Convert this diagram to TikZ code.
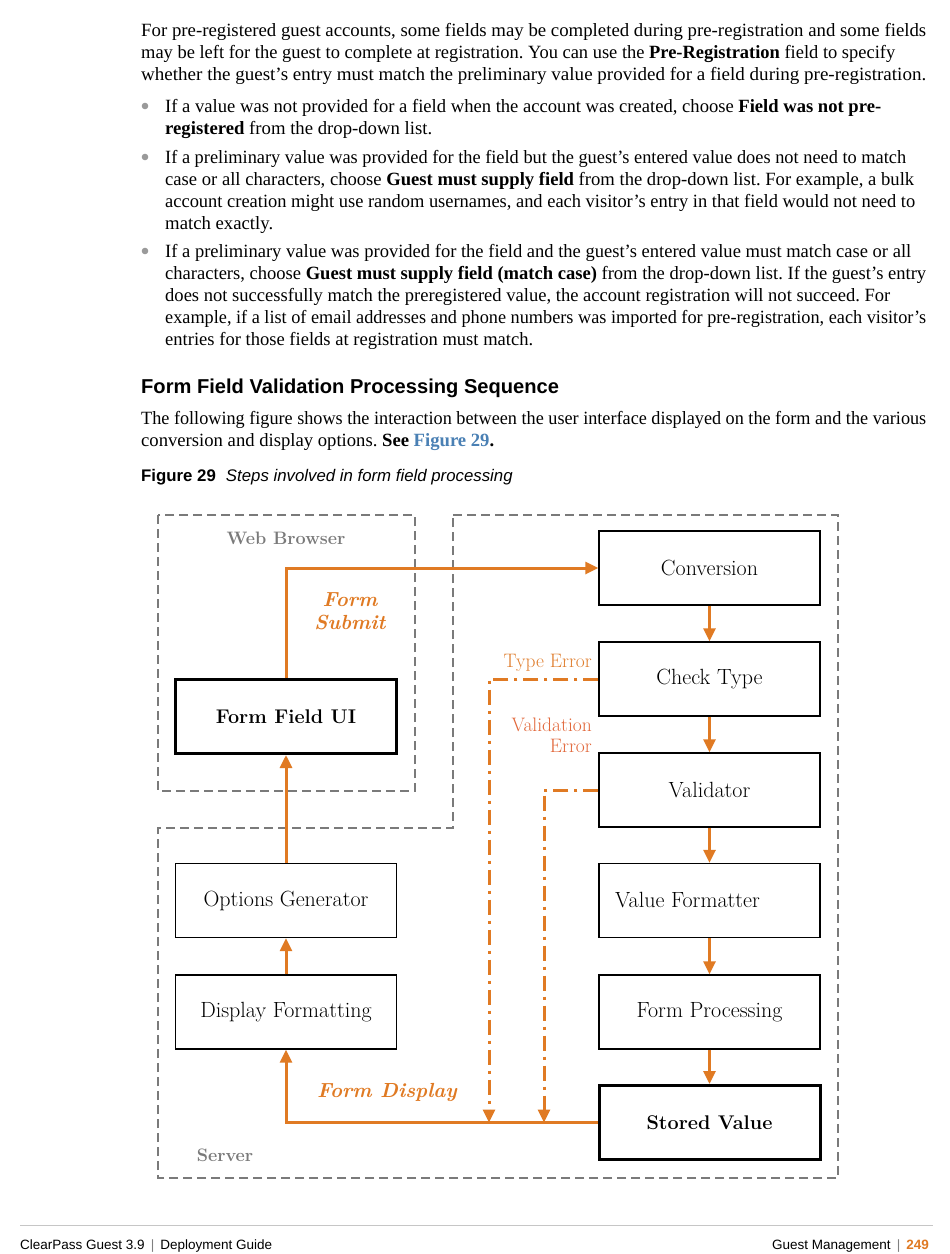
\documentclass[tikz,border=0pt]{standalone}
\usepackage{fontspec}
\usepackage{graphicx}
\usetikzlibrary{arrows.meta}
\setmainfont{Liberation Serif}
\newfontfamily\sansf{Liberation Sans}
\newfontfamily\diagf{Latin Modern Roman}
\definecolor{orng}{HTML}{E07A23}
\definecolor{orlt}{HTML}{E07E2E}
\definecolor{orred}{HTML}{E2673A}
\definecolor{dgray}{HTML}{7A7A7A}
\definecolor{lgray}{HTML}{9A9A9A}
\definecolor{linkblue}{HTML}{4A80B4}
\frenchspacing
\newcommand\fitln[2]{\resizebox{#1pt}{\height}{#2}}
\tikzset{
  body/.style={anchor=base west, inner sep=0pt, font=\fontsize{18.7}{22}\selectfont},
  bul/.style={fill=lgray, draw=none},
  box/.style={draw, line width=1.4pt, minimum width=221pt, minimum height=74pt, inner sep=0pt, font=\diagf\fontsize{22}{25}\selectfont},
  thickbox/.style={box, line width=3pt, font=\diagf\bfseries\fontsize{19.8}{24}\selectfont},
  region/.style={draw=dgray, line width=2.5pt, dash pattern=on 9pt off 5pt},
  oarrow/.style={draw=orng, line width=3pt, -{Triangle[length=13pt,width=12pt]}},
  derr/.style={draw=orng, line width=3pt, dash pattern=on 15pt off 6pt on 3pt off 6pt, -{Triangle[length=13pt,width=12pt]}},
  olabel/.style={text=orng, inner sep=0pt, font=\diagf\bfseries\itshape\fontsize{20.4}{23}\selectfont},
  elabel/.style={text=orlt, inner sep=0pt, anchor=base east, font=\diagf\fontsize{19.5}{21}\selectfont},
  glabel/.style={text=dgray, inner sep=0pt, font=\diagf\bfseries\fontsize{18}{21}\selectfont},
  foot/.style={inner sep=0pt, anchor=base, font=\sansf\fontsize{13.5}{16}\selectfont}
}
\begin{document}
\begin{tikzpicture}[x=1pt,y=-1pt]
\useasboundingbox (0,0) rectangle (950,1254);
\fill[white] (0,0) rectangle (950,1254);

% ---- body text ----
\node[body] (l1) at (141,36) {\fitln{785}{For pre-registered guest accounts, some fields may be completed during pre-registration and some fields}};
\node[body] (l2) at (141,58) {\fitln{754}{may be left for the guest to complete at registration. You can use the \textbf{Pre-Registration} field to specify}};
\node[body] (l3) at (141,80) {\fitln{785}{whether the guest’s entry must match the preliminary value provided for a field during pre-registration.}};

\fill[bul] (145,106) circle (3.3);
\node[body] (b1a) at (165,112) {\fitln{716}{If a value was not provided for a field when the account was created, choose \textbf{Field was not pre-}}};
\node[body] (b1b) at (165,134) {\fitln{267}{\textbf{registered} from the drop-down list.}};

\fill[bul] (145,157) circle (3.3);
\node[body] (b2a) at (165,163) {\fitln{741}{If a preliminary value was provided for the field but the guest’s entered value does not need to match}};
\node[body] (b2b) at (165,185) {\fitln{749}{case or all characters, choose \textbf{Guest must supply field} from the drop-down list. For example, a bulk}};
\node[body] (b2c) at (165,207) {\fitln{750}{account creation might use random usernames, and each visitor’s entry in that field would not need to}};
\node[body] (b2d) at (165,229) {\fitln{108}{match exactly.}};

\fill[bul] (145,251) circle (3.3);
\node[body] (b3a) at (165,257) {\fitln{746}{If a preliminary value was provided for the field and the guest’s entered value must match case or all}};
\node[body] (b3b) at (165,279) {\fitln{761}{characters, choose \textbf{Guest must supply field (match case)} from the drop-down list. If the guest’s entry}};
\node[body] (b3c) at (165,301) {\fitln{725}{does not successfully match the preregistered value, the account registration will not succeed. For}};
\node[body] (b3d) at (165,323) {\fitln{761}{example, if a list of email addresses and phone numbers was imported for pre-registration, each visitor’s}};
\node[body] (b3e) at (165,345) {\fitln{368}{entries for those fields at registration must match.}};

\node[body, font=\sansf\bfseries\fontsize{20.1}{22}\selectfont] (head) at (141,393) {Form Field Validation Processing Sequence};

\node[body] (p2a) at (141,424) {\fitln{785}{The following figure shows the interaction between the user interface displayed on the form and the various}};
\node[body] (p2b) at (141,446) {\fitln{353}{conversion and display options. \textbf{See} \textcolor{linkblue}{\textbf{Figure 29}}\textbf{.}}};

\node[body, font=\sansf\fontsize{16.8}{19}\selectfont] (cap) at (141,481) {\textbf{Figure 29}\hspace{0.6em}\textit{Steps involved in form field processing}};

% ---- regions ----
\draw[region] (158,515) rectangle (415,791);
\draw[region] (453,515) -- (838,515) -- (838,1178) -- (158,1178) -- (158,828) -- (453,828) -- cycle;
\node[glabel] (wb) at (286,538) {Web Browser};
\node[glabel] (srv) at (225,1155) {Server};

% ---- boxes ----
\node[box] (conv) at (709.5,568) {Conversion};
\node[box] (check) at (709.5,679) {Check Type};
\node[box] (valid) at (709.5,790) {Validator};
\node[box] (vform) at (709.5,900.5) {Value Formatter\hspace*{44pt}};
\node[box] (fproc) at (709.5,1012) {Form Processing};
\node[thickbox] (stored) at (709.5,1122.5) {Stored Value};

\node[thickbox] (ffui) at (286,716.5) {Form Field UI};
\node[box] (optg) at (286,900.5) {Options Generator};
\node[box] (dispf) at (286,1012) {Display Formatting};

% ---- arrows ----
\draw[oarrow] (ffui.north) -- (ffui.north |- conv.west) -- (conv.west);
\draw[oarrow] (conv.south) -- (check.north);
\draw[oarrow] (check.south) -- (valid.north);
\draw[oarrow] (valid.south) -- (vform.north);
\draw[oarrow] (vform.south) -- (fproc.north);
\draw[oarrow] (fproc.south) -- (stored.north);
\draw[oarrow] (optg.north) -- (ffui.south);
\draw[oarrow] (dispf.north) -- (optg.south);
\draw[oarrow] (stored.west) -- (stored.west -| dispf.south) -- (dispf.south);

\coordinate (tec) at (489,679);
\coordinate (tee) at (489,1122.5);
\coordinate (vec) at (544,790);
\coordinate (vee) at (544,1122.5);
\draw[derr] (check.west) -- (tec) -- (tee);
\draw[derr] (valid.west) -- (vec) -- (vee);

% ---- labels ----
\node[olabel, align=center] (fs) at (350,611) {Form\\Submit};
\node[olabel] (fd) at (387,1092) {Form Display};
\node[elabel] (te) at (592,667) {Type Error};
\node[elabel, text=orred, align=right] (ve) at (592,752) {Validation\\Error};

% ---- footer ----
\draw[gray!45, line width=1pt] (20,1225) -- (933,1225);
\node[foot, anchor=base west] (fl) at (20,1249) {ClearPass Guest 3.9 \,{\color{gray}|}\, Deployment Guide};
\node[foot, anchor=base east] (fr) at (929,1249) {Guest Management \,{\color{gray}|}\, \textcolor{orng}{\textbf{249}}};
\end{tikzpicture}
\end{document}
